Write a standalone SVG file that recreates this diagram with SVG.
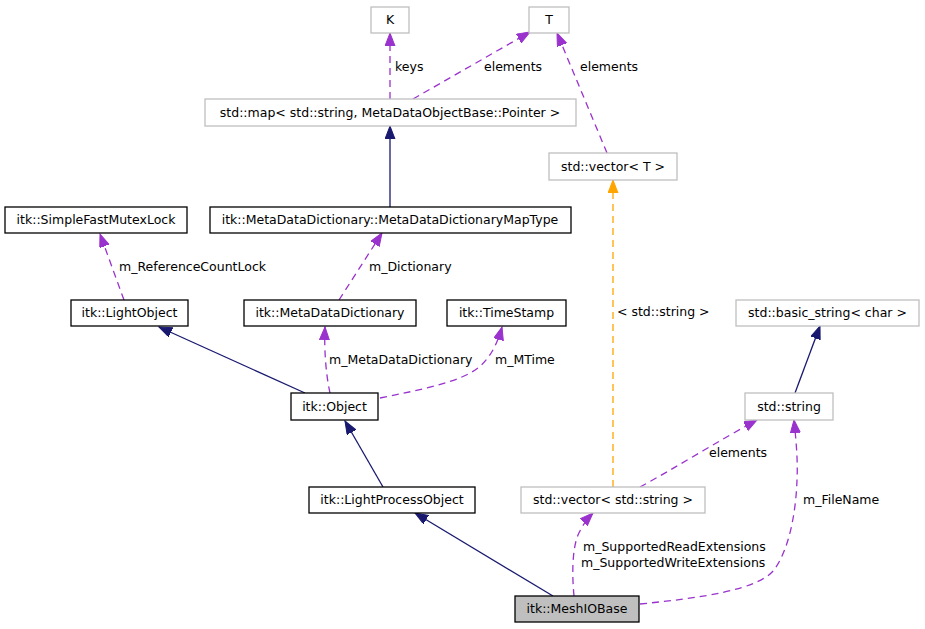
<svg xmlns="http://www.w3.org/2000/svg" width="925" height="629" viewBox="0 0 925 629">
<style>
text{font-family:"DejaVu Sans","Liberation Sans",sans-serif;font-size:12.5px;fill:#000}
.n text{text-anchor:middle}
.b{fill:#fff;stroke:#000;stroke-width:1.3}
.g{fill:#fff;stroke:#bfbfbf;stroke-width:1.3}
.h{fill:#bfbfbf;stroke:#000;stroke-width:1.3}
.s{fill:none;stroke:#191970;stroke-width:1.3;marker-end:url(#an)}
.d{fill:none;stroke:#9a32cd;stroke-width:1.3;stroke-dasharray:7,5;marker-end:url(#ap)}
.o{fill:none;stroke:#ffa500;stroke-width:1.3;stroke-dasharray:7,5;marker-end:url(#ao)}
</style>
<defs>
<marker id="an" markerUnits="userSpaceOnUse" markerWidth="14" markerHeight="12" refX="13" refY="5" orient="auto"><path d="M0,0 L13,5 L0,10 z" fill="#191970" stroke="#191970"/></marker>
<marker id="ap" markerUnits="userSpaceOnUse" markerWidth="14" markerHeight="12" refX="13" refY="5" orient="auto"><path d="M0,0 L13,5 L0,10 z" fill="#9a32cd" stroke="#9a32cd"/></marker>
<marker id="ao" markerUnits="userSpaceOnUse" markerWidth="14" markerHeight="12" refX="13" refY="5" orient="auto"><path d="M0,0 L13,5 L0,10 z" fill="#ffa500" stroke="#ffa500"/></marker>
</defs>
<rect width="925" height="629" fill="#fff"/>
<g id="edges">
<path class="d" d="M390,99 L390,33"/>
<text x="395" y="71">keys</text>
<path class="d" d="M413,99 L530,32"/>
<text x="484" y="71">elements</text>
<path class="d" d="M607,153 L557,33"/>
<text x="580" y="71">elements</text>
<path class="s" d="M390,207 L390,126"/>
<path class="d" d="M124,300 L100,234"/>
<text x="119" y="271">m_ReferenceCountLock</text>
<path class="d" d="M339,300 L382,233"/>
<text x="369" y="271">m_Dictionary</text>
<path class="s" d="M305,393 L159,327"/>
<path class="d" d="M330,393 C326,375 324,350 325,327"/>
<text x="329" y="364">m_MetaDataDictionary</text>
<path class="d" d="M380,398 C420,390 460,382 478,368 C490,358 497,345 502,327"/>
<text x="495" y="364">m_MTime</text>
<path class="s" d="M383,487 L345,421"/>
<path class="s" d="M553,596 L415,513"/>
<path class="d" d="M574,596 C572,575 572,550 578,535 C582,526 587,519 593,513"/>
<text x="583" y="551">m_SupportedReadExtensions</text>
<text x="581" y="567">m_SupportedWriteExtensions</text>
<path class="d" d="M640,604 C700,598 758,590 774,570 C790,548 796,510 797,480 C798,460 796,440 794,420"/>
<text x="803" y="504">m_FileName</text>
<path class="d" d="M640,487 C675,468 720,440 757,420"/>
<text x="709" y="457">elements</text>
<path class="o" d="M613,487 L613,180"/>
<text x="617" y="316">&lt; std::string &gt;</text>
<path class="s" d="M795,393 L820,326"/>
</g>
<g class="n">
<g id="K"><rect class="g" x="371" y="7" width="38" height="26"/><text x="390" y="24">K</text></g>
<g id="T"><rect class="g" x="529" y="7" width="40" height="26"/><text x="549" y="24">T</text></g>
<g id="map"><rect class="g" x="205" y="99" width="371" height="27"/><text x="390" y="117">std::map&lt; std::string, MetaDataObjectBase::Pointer &gt;</text></g>
<g id="vectorT"><rect class="g" x="549" y="153" width="128" height="27"/><text x="613" y="171">std::vector&lt; T &gt;</text></g>
<g id="MapType"><rect class="b" x="210" y="207" width="361" height="26"/><text x="390" y="224">itk::MetaDataDictionary::MetaDataDictionaryMapType</text></g>
<g id="Mutex"><rect class="b" x="5" y="207" width="182" height="26"/><text x="96" y="224">itk::SimpleFastMutexLock</text></g>
<g id="LightObject"><rect class="b" x="71" y="300" width="117" height="26"/><text x="129.5" y="317">itk::LightObject</text></g>
<g id="MetaDataDictionary"><rect class="b" x="244" y="300" width="172" height="26"/><text x="330" y="317">itk::MetaDataDictionary</text></g>
<g id="TimeStamp"><rect class="b" x="447" y="300" width="119" height="26"/><text x="506.5" y="317">itk::TimeStamp</text></g>
<g id="basic_string"><rect class="g" x="736" y="300" width="183" height="26"/><text x="827.5" y="317">std::basic_string&lt; char &gt;</text></g>
<g id="Object"><rect class="b" x="291" y="393" width="87" height="27"/><text x="334.5" y="411">itk::Object</text></g>
<g id="string"><rect class="g" x="745" y="393" width="88" height="27"/><text x="789" y="411">std::string</text></g>
<g id="LightProcessObject"><rect class="b" x="309" y="487" width="166" height="26"/><text x="392" y="504">itk::LightProcessObject</text></g>
<g id="vectorString"><rect class="g" x="521" y="487" width="184" height="26"/><text x="613" y="504">std::vector&lt; std::string &gt;</text></g>
<g id="MeshIOBase"><rect class="h" x="515" y="596" width="124" height="26"/><text x="577" y="613">itk::MeshIOBase</text></g>
</g>
</svg>
